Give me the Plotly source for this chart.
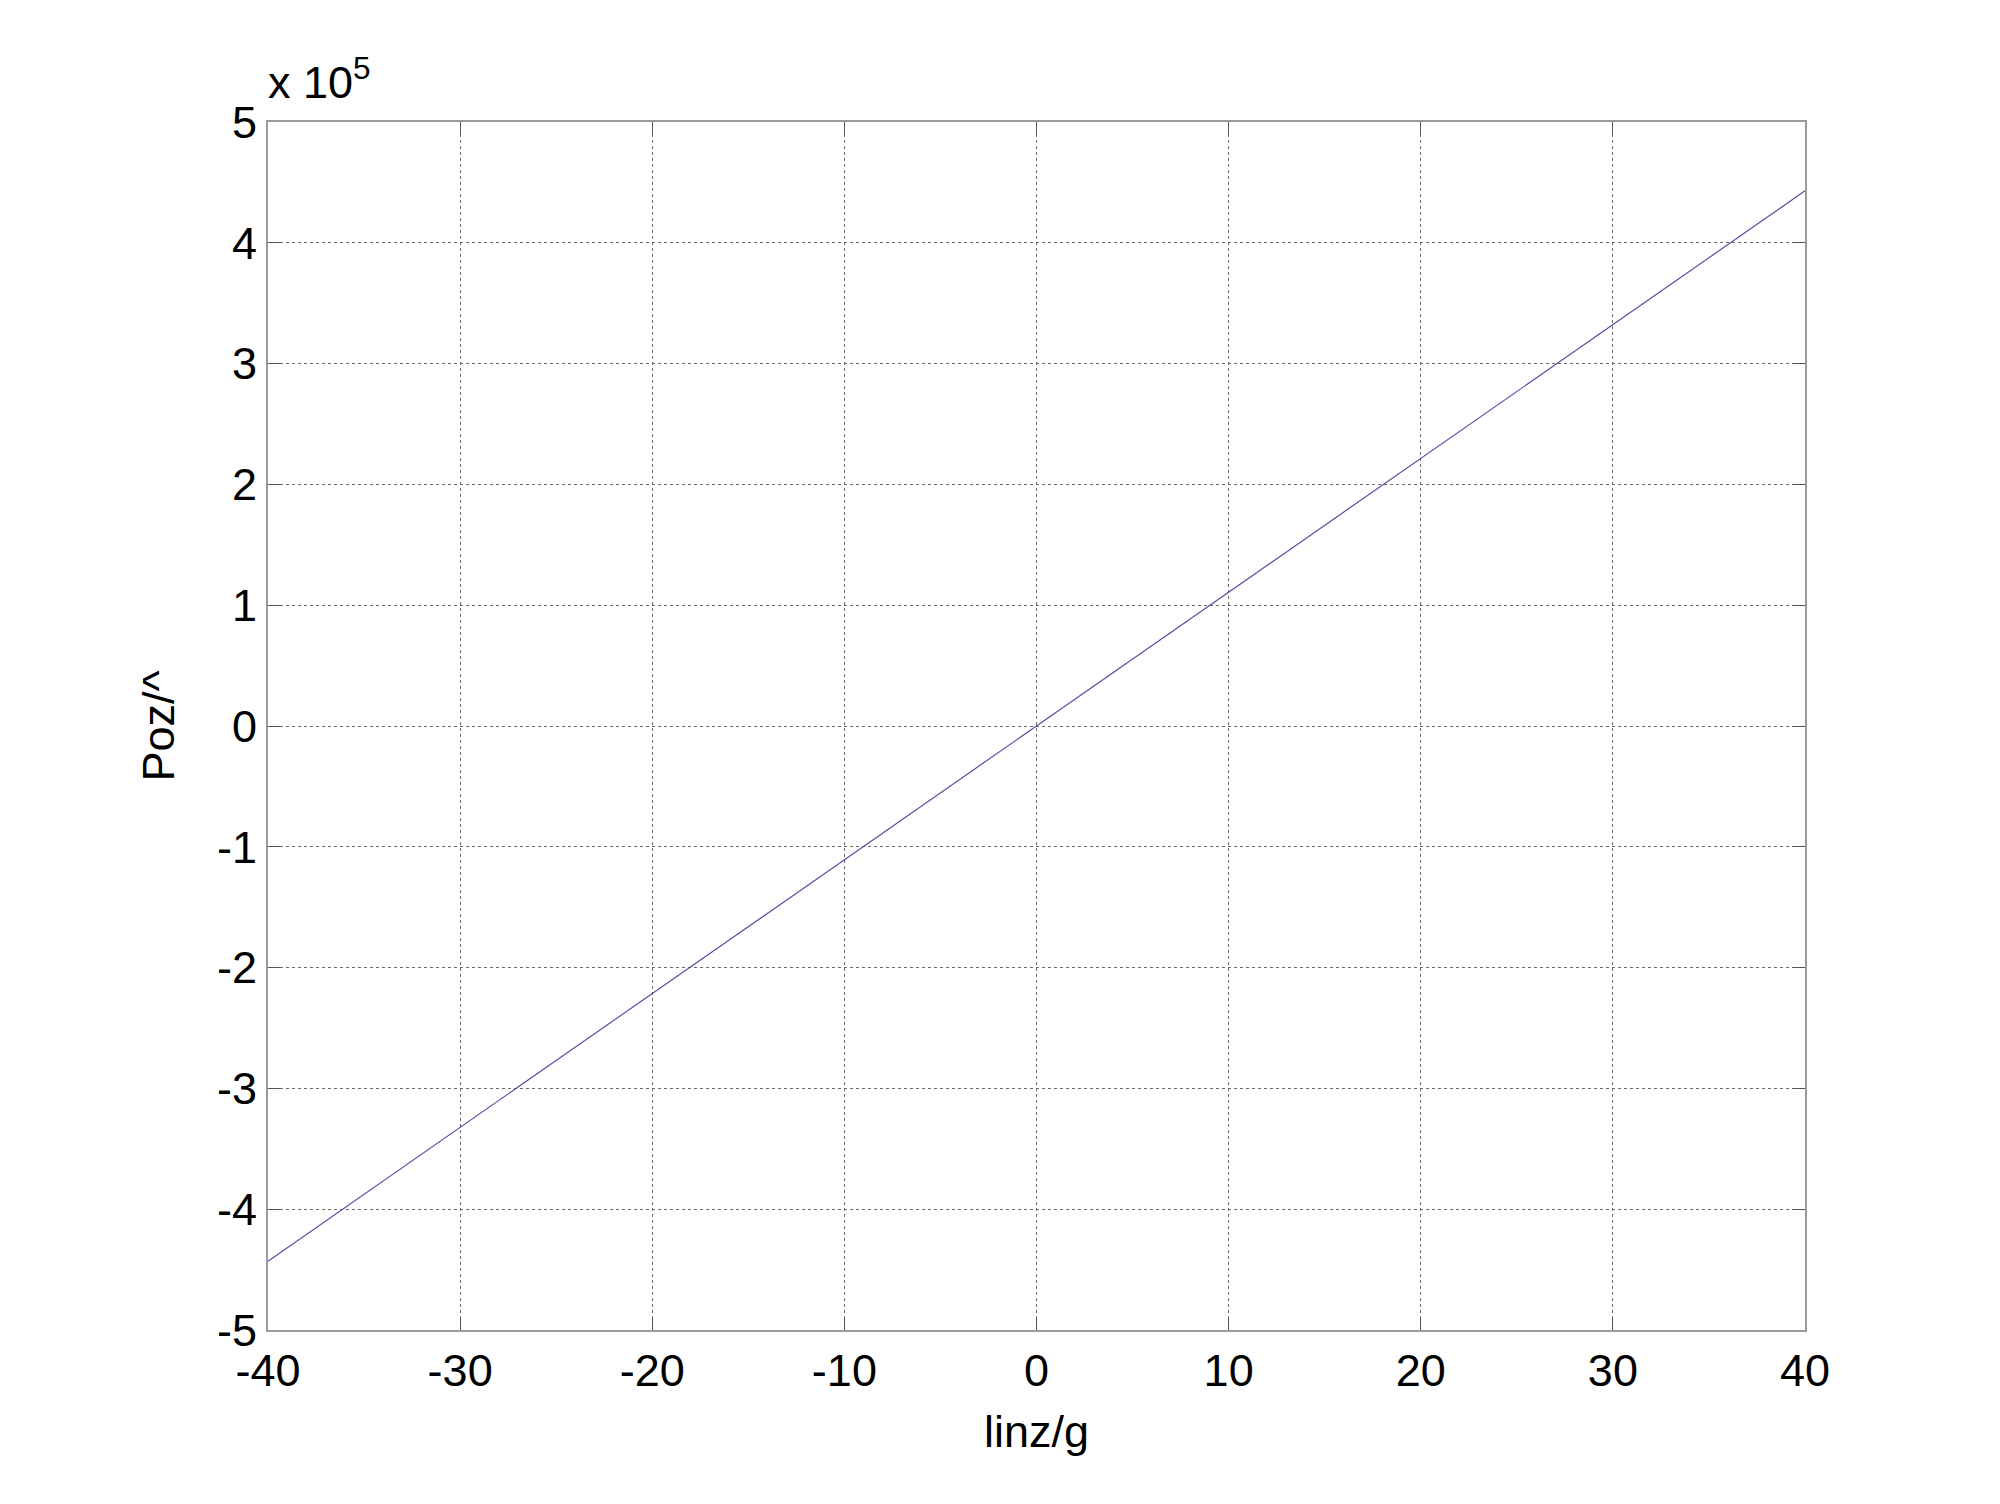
import plotly.graph_objects as go

# Data
linz_g = [-40, 0, 40]
poz = [-443000, 0, 443000]
x_ticks = [-40, -30, -20, -10, 0, 10, 20, 30, 40]
x_ticktext = ["-40", "-30", "-20", "-10", "0", "10", "20", "30", "40"]
y_ticks = [-5e5, -4e5, -3e5, -2e5, -1e5, 0, 1e5, 2e5, 3e5, 4e5, 5e5]
y_ticktext = ["-5", "-4", "-3", "-2", "-1", "0", "1", "2", "3", "4", "5"]

FONT = "Liberation Sans, Arial, sans-serif"

fig = go.Figure()
fig.add_trace(go.Scatter(x=linz_g, y=poz, mode="lines",
                         line=dict(color="#5050a8", width=1.2), showlegend=False))

axis_common = dict(
    showline=True, linecolor="#9a9a9a", linewidth=2, mirror="ticks",
    ticks="inside", ticklen=12, tickcolor="#555555", tickwidth=1,
    showgrid=True, gridcolor="#6a6a6a", griddash="dot", gridwidth=1,
    zeroline=False,
    tickfont=dict(family=FONT, size=45, color="black"),
)

fig.update_xaxes(range=[-40, 40], tickvals=x_ticks, ticktext=x_ticktext,
                 title=dict(text="linz/g", font=dict(family=FONT, size=45, color="black"), standoff=20),
                 **axis_common)
fig.update_yaxes(range=[-5e5, 5e5], tickvals=y_ticks, ticktext=y_ticktext,
                 title=dict(text="Poz/^", font=dict(family=FONT, size=45, color="black"), standoff=28),
                 **axis_common)

fig.add_annotation(text="x 10<sup>5</sup>", xref="paper", yref="paper",
                   x=0.0, y=1.0, xanchor="left", yanchor="bottom", yshift=12, xshift=-2,
                   showarrow=False, font=dict(family=FONT, size=45, color="black"))

fig.update_layout(
    width=2000, height=1504,
    margin=dict(l=260, r=203, t=114, b=182, autoexpand=False),
    paper_bgcolor="white", plot_bgcolor="white",
)

fig.write_html("out.html")
